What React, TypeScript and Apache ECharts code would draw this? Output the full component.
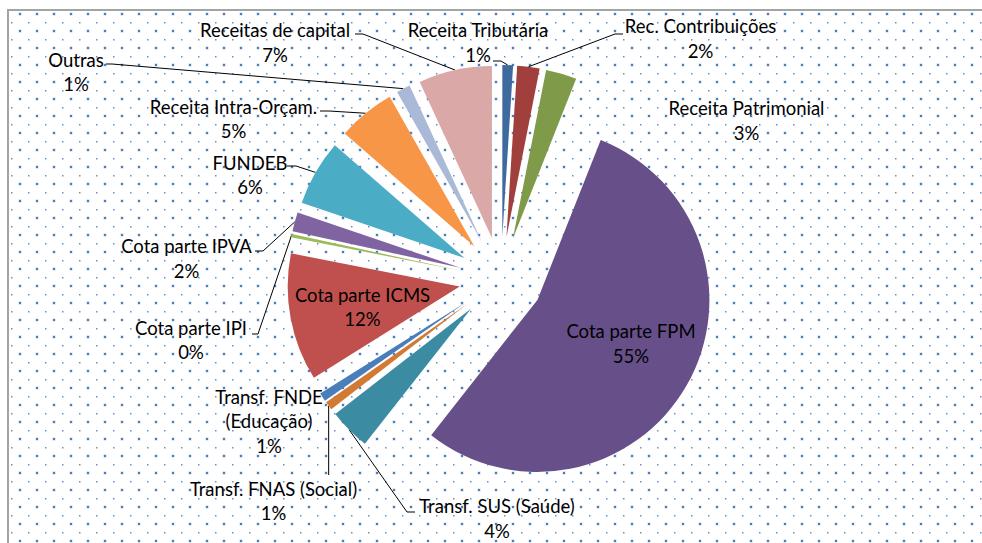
import React, { useEffect, useRef } from "react";
import * as echarts from "echarts";

// ---- data ----
const categories = [
  "Receita Tributária",
  "Rec. Contribuições",
  "Receita Patrimonial",
  "Cota parte FPM",
  "Transf. SUS (Saúde)",
  "Transf. FNAS (Social)",
  "Transf. FNDE\n(Educação)",
  "Cota parte ICMS",
  "Cota parte IPI",
  "Cota parte IPVA",
  "FUNDEB",
  "Receita Intra-Orçam.",
  "Outras",
  "Receitas de capital",
];
const values = [1.0, 2.1, 2.9, 54.6, 3.9, 0.8, 0.8, 12.0, 0.3, 1.8, 6.2, 5.4, 1.3, 6.9];
const colors = [
  "#3e6aa0", "#a13f3c", "#7f9a48", "#67508a", "#3b8ca3", "#d27a34", "#4a7ebb",
  "#c0504d", "#9bbb59", "#8064a2", "#4bacc6", "#f79646", "#aab9d8", "#d9a8a7",
];

// ---- layout (label centres and leader-line start/bend points) ----
const labelCenters: number[][] = [
  [478, 42.5], [700.5, 38.5], [746.5, 120.5], [631, 343.5], [497, 518.5],
  [273.5, 501], [269, 421], [362.5, 307], [191, 340], [186.5, 258.5],
  [250, 175], [233.5, 119], [76, 72], [275, 42.5],
];
const leaderStarts: (number[][] | null)[] = [
  [[493, 61], [501, 61]],
  [[623, 34], [615, 34]],
  null,
  null,
  [[415, 512], [407, 512]],
  [[-1, 475]],
  null,
  null,
  [[252, 334], [258, 334]],
  [[255, 251], [263, 251]],
  [[287, 166], [296, 166]],
  [[320, 111], [329, 111]],
  [[106, 64], [112, 64]],
  [[355, 34], [363, 34]],
];

const CX = 501;
const CY = 279;
const R = 172;
const OFFSET = 42;

const tileSvg =
  "<svg xmlns='http://www.w3.org/2000/svg' width='17' height='17'>" +
  "<rect x='9.5' y='1.5' width='3' height='3' fill='#4f81bd' fill-opacity='0.35'/>" +
  "<rect x='10' y='2' width='2' height='2' fill='#4a7ebb'/>" +
  "<rect x='2' y='11' width='1.5' height='1.5' fill='#4a7ebb' fill-opacity='0.85'/>" +
  "</svg>";
const tileUrl = `url("data:image/svg+xml;utf8,${encodeURIComponent(tileSvg)}")`;

export default function App() {
  const ref = useRef<HTMLDivElement>(null);
  useEffect(() => {
    if (!ref.current) return;
    const chart = echarts.init(ref.current, null, { renderer: "svg" });
    const total = values.reduce((a, b) => a + b, 0);
    let cum = 0;
    const mids = values.map((v) => {
      const mid = ((cum + v / 2) / total) * Math.PI * 2;
      cum += v;
      return mid;
    });
    const anchors = mids.map((m) => [
      CX + (R + OFFSET) * Math.sin(m),
      CY - (R + OFFSET) * Math.cos(m),
    ]);

    // one pie per slice, each pushed out along its own bisector (exploded pie)
    const series = categories.map((_, i) => ({
      type: "pie",
      name: categories[i],
      center: [CX + OFFSET * Math.sin(mids[i]), CY - OFFSET * Math.cos(mids[i])],
      radius: R,
      startAngle: 90,
      clockwise: true,
      avoidLabelOverlap: false,
      minShowLabelAngle: 0,
      silent: true,
      emphasis: { disabled: true },
      itemStyle: { borderWidth: 0 },
      label: {
        show: true,
        position: "outside",
        color: "#000",
        fontFamily: "Lato",
        fontSize: 18.5,
        lineHeight: 24.5,
        align: "center",
        formatter: (p: any) => `${p.name}\n${Math.round((p.value / total) * 100)}%`,
      },
      labelLine: {
        show: true,
        lineStyle: { color: "#000", width: 1 },
      },
      labelLayout: (p: any) => {
        const j = p.dataIndex;
        if (j !== i) return {};
        const res: any = {
          x: labelCenters[j][0],
          y: labelCenters[j][1],
          align: "center",
          verticalAlign: "middle",
        };
        const ls = leaderStarts[j];
        if (ls) {
          const pts = ls.map((pt) => [pt[0] < 0 ? anchors[j][0] : pt[0], pt[1]]);
          res.labelLinePoints = [...pts, anchors[j]];
        }
        return res;
      },
      data: categories.map((name, j) => ({
        name,
        value: values[j],
        itemStyle: j === i ? { color: colors[j] } : { color: colors[j], opacity: 0 },
        label: { show: j === i },
        labelLine: { show: j === i && leaderStarts[j] != null },
      })),
    }));

    chart.setOption({
      animation: false,
      backgroundColor: "transparent",
      series,
    });
    return () => chart.dispose();
  }, []);
  return (
    <div style={{ position: "absolute", left: 0, top: 0, width: 982, height: 543, background: "#fff", overflow: "hidden" }}>
      <div
        style={{
          position: "absolute",
          left: 7,
          top: 9,
          width: 1000,
          height: 600,
          borderLeft: "2px solid #a3a3a3",
          borderTop: "2px solid #a3a3a3",
          backgroundImage: tileUrl,
          backgroundSize: "17px 17px",
          backgroundRepeat: "repeat",
        }}
      />
      <div ref={ref} style={{ position: "absolute", left: 0, top: 0, width: 982, height: 543 }} />
    </div>
  );
}
